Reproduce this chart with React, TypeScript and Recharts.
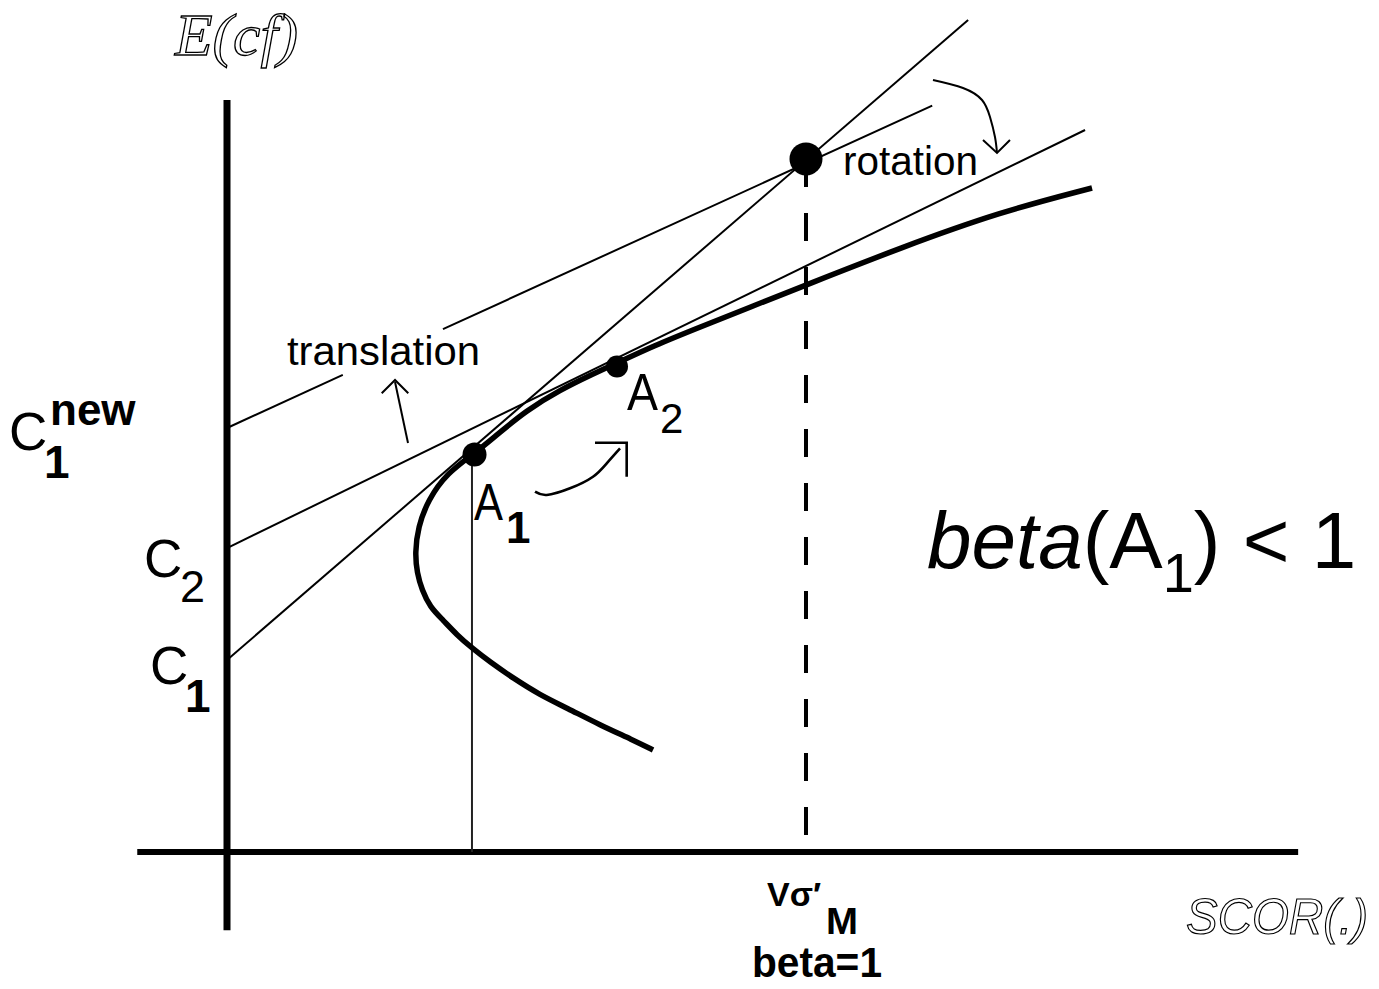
import React from "react";
import { ComposedChart, Line, XAxis, YAxis, ReferenceDot } from "recharts";

const W = 1379;
const H = 989;
// one unit of the diagram = 57.9 px, origin where the two axes cross
const UNIT = 57.9;
const ORIGIN_X = 227;
const ORIGIN_Y = 852;
const X_DOMAIN = [-ORIGIN_X / UNIT, (W - ORIGIN_X) / UNIT];
const Y_DOMAIN = [-(H - ORIGIN_Y) / UNIT, ORIGIN_Y / UNIT];

// axes
const xAxisLine = [{ x: -1.55, y: 0 }, { x: 18.5, y: 0 }];
const yAxisLine = [{ x: 0, y: -1.35 }, { x: 0, y: 12.99 }];

// efficient frontier, from its lower end round the nose up to the right
const frontier = [
  { x: 7.358, y: 1.762 },
  { x: 7.012, y: 1.934 },
  { x: 6.442, y: 2.193 },
  { x: 5.872, y: 2.487 },
  { x: 5.406, y: 2.712 },
  { x: 4.94, y: 3.005 },
  { x: 4.542, y: 3.282 },
  { x: 4.231, y: 3.523 },
  { x: 3.972, y: 3.748 },
  { x: 3.731, y: 4.007 },
  { x: 3.506, y: 4.231 },
  { x: 3.368, y: 4.525 },
  { x: 3.282, y: 4.819 },
  { x: 3.247, y: 5.164 },
  { x: 3.299, y: 5.613 },
  { x: 3.472, y: 6.079 },
  { x: 3.8, y: 6.546 },
  { x: 4.283, y: 6.891 },
  { x: 4.594, y: 7.15 },
  { x: 5.181, y: 7.634 },
  { x: 5.751, y: 7.979 },
  { x: 6.321, y: 8.256 },
  { x: 6.736, y: 8.446 },
  { x: 7.358, y: 8.739 },
  { x: 8.169, y: 9.067 },
  { x: 9.085, y: 9.43 },
  { x: 10.0, y: 9.793 },
  { x: 11.623, y: 10.432 },
  { x: 13.351, y: 11.054 },
  { x: 14.94, y: 11.468 },
];

// points
const pointA1 = { x: 4.275, y: 6.865 };
const pointA2 = { x: 6.736, y: 8.385 };
const pointM = { x: 10.0, y: 11.97 };

// straight lines from the intercepts C1, C2, C1new
const lineC1 = [{ x: 0, y: 3.316 }, { x: 12.8, y: 14.37 }];
const lineC2 = [{ x: 0, y: 5.25 }, { x: 14.82, y: 12.47 }];
const lineC1newLeft = [{ x: 0, y: 7.323 }, { x: 2.0, y: 8.24 }];
const lineC1newRight = [{ x: 3.73, y: 9.03 }, { x: 12.18, y: 12.89 }];

// drop lines to the horizontal axis
const dropA1 = [{ x: 4.231, y: 0 }, { x: 4.231, y: 6.865 }];
const dropM = [{ x: 10.0, y: 11.97 }, { x: 10.0, y: 0 }];

// arrows
const translationShaft = [{ x: 3.126, y: 7.064 }, { x: 2.902, y: 8.117 }];
const translationHead = [
  { x: 2.672, y: 7.922 },
  { x: 2.902, y: 8.152 },
  { x: 3.131, y: 7.922 },
];
const rotationShaft = [
  { x: 12.193, y: 13.333 },
  { x: 12.712, y: 13.195 },
  { x: 13.04, y: 12.988 },
  { x: 13.178, y: 12.694 },
  { x: 13.264, y: 12.349 },
  { x: 13.299, y: 12.073 },
];
const rotationHead = [
  { x: 13.057, y: 12.297 },
  { x: 13.299, y: 12.073 },
  { x: 13.523, y: 12.297 },
];
const moveShaft = [
  { x: 5.32, y: 6.223 },
  { x: 5.522, y: 6.166 },
  { x: 5.924, y: 6.281 },
  { x: 6.321, y: 6.482 },
  { x: 6.558, y: 6.713 },
  { x: 6.788, y: 6.972 },
];
const moveHead = [
  { x: 6.356, y: 7.069 },
  { x: 6.903, y: 7.069 },
  { x: 6.903, y: 6.482 },
];

const SANS = "Liberation Sans, Arial, sans-serif";

export default function App() {
  const base = { dataKey: "y", dot: false, activeDot: false, isAnimationActive: false, stroke: "#000" } as const;
  const thin = { ...base, type: "linear", strokeWidth: 2 } as const;
  return (
    <div style={{ position: "absolute", left: 0, top: 0, width: W, height: H, background: "#fff" }}>
      <ComposedChart width={W} height={H} margin={{ top: 0, right: 0, bottom: 0, left: 0 }}>
        <XAxis type="number" dataKey="x" domain={X_DOMAIN} allowDataOverflow hide />
        <YAxis type="number" dataKey="y" domain={Y_DOMAIN} allowDataOverflow hide />

        <Line {...base} data={xAxisLine} type="linear" strokeWidth={6} />
        <Line {...base} data={yAxisLine} type="linear" strokeWidth={7} />

        <Line {...thin} data={lineC1} />
        <Line {...thin} data={lineC2} />
        <Line {...thin} data={lineC1newLeft} />
        <Line {...thin} data={lineC1newRight} />

        <Line {...base} data={dropA1} type="linear" stroke="#222" strokeWidth={2} />
        <Line {...base} data={dropM} type="linear" strokeWidth={4} strokeDasharray="28 26" />

        <Line {...base} data={frontier} type="basis" strokeWidth={5.5} />

        <Line {...thin} data={translationShaft} />
        <Line {...thin} data={translationHead} />
        <Line {...thin} data={rotationShaft} type="natural" />
        <Line {...thin} data={rotationHead} />
        <Line {...base} data={moveShaft} type="natural" strokeWidth={2.6} />
        <Line {...base} data={moveHead} type="linear" strokeWidth={2.6} />

        <ReferenceDot x={pointM.x} y={pointM.y} r={16.5} fill="#000" stroke="none" />
        <ReferenceDot x={pointA1.x} y={pointA1.y} r={12} fill="#000" stroke="none" />
        <ReferenceDot x={pointA2.x} y={pointA2.y} r={11} fill="#000" stroke="none" />
      </ComposedChart>

      <svg width={W} height={H} style={{ position: "absolute", left: 0, top: 0, pointerEvents: "none" }}>
        <text x={175} y={55} fontFamily="Liberation Serif, serif" fontStyle="italic" fontSize={60}
          fill="none" stroke="#000" strokeWidth={1.3} textLength={123} lengthAdjust="spacingAndGlyphs">E(cf)</text>
        <text x={1186} y={934} fontFamily={SANS} fontStyle="italic" fontSize={50}
          fill="none" stroke="#000" strokeWidth={1.2} textLength={182} lengthAdjust="spacingAndGlyphs">SCOR(.)</text>

        <text x={287} y={365} fontFamily={SANS} fontSize={40} fill="#000"
          textLength={193} lengthAdjust="spacingAndGlyphs">translation</text>
        <text x={843} y={175} fontFamily={SANS} fontSize={41} fill="#000"
          textLength={135} lengthAdjust="spacingAndGlyphs">rotation</text>

        {/* intercepts */}
        <text x={9} y={450} fontFamily={SANS} fontSize={53} fill="#000">C</text>
        <text x={50} y={425} fontFamily={SANS} fontWeight="bold" fontSize={44} fill="#000">new</text>
        <text x={44} y={478} fontFamily={SANS} fontWeight="bold" fontSize={46} fill="#000">1</text>
        <text x={144} y={577} fontFamily={SANS} fontSize={53} fill="#000">C</text>
        <text x={180} y={602} fontFamily={SANS} fontSize={45} fill="#000">2</text>
        <text x={150} y={684} fontFamily={SANS} fontSize={53} fill="#000">C</text>
        <text x={185} y={712} fontFamily={SANS} fontWeight="bold" fontSize={46} fill="#000">1</text>

        {/* portfolio labels */}
        <text x={474} y={520} fontFamily={SANS} fontSize={52} fill="#000"
          textLength={29} lengthAdjust="spacingAndGlyphs">A</text>
        <text x={506} y={543} fontFamily={SANS} fontWeight="bold" fontSize={44} fill="#000">1</text>
        <text x={627} y={410} fontFamily={SANS} fontSize={52} fill="#000"
          textLength={31} lengthAdjust="spacingAndGlyphs">A</text>
        <text x={660} y={433} fontFamily={SANS} fontSize={42} fill="#000">2</text>

        {/* market point label */}
        <text x={767} y={906} fontFamily={SANS} fontWeight="bold" fontSize={34} fill="#000">Vσ′</text>
        <text x={826} y={934} fontFamily={SANS} fontWeight="bold" fontSize={36} fill="#000"
          textLength={32} lengthAdjust="spacingAndGlyphs">M</text>
        <text x={752} y={977} fontFamily={SANS} fontWeight="bold" fontSize={42} fill="#000"
          textLength={130} lengthAdjust="spacingAndGlyphs">beta=1</text>

        <text x={927} y={568} fontFamily={SANS} fontSize={80} fill="#000">
          <tspan fontStyle="italic">beta</tspan>
          <tspan>(A</tspan>
          <tspan fontSize={56} dy={24}>1</tspan>
          <tspan dy={-24}>) &lt; 1</tspan>
        </text>
      </svg>
    </div>
  );
}
